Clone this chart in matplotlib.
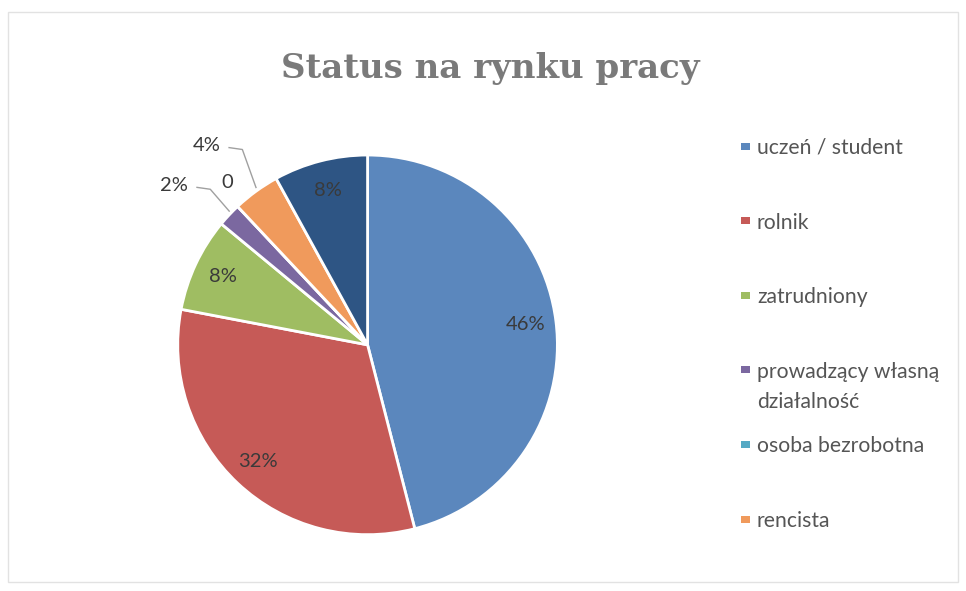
import numpy as np
import matplotlib
matplotlib.use("Agg")
import matplotlib.pyplot as plt
from matplotlib.patches import Rectangle

categories = ["uczeń / student", "rolnik", "zatrudniony",
              "prowadzący własną\ndziałalność", "osoba bezrobotna", "rencista", "inne"]
values = [46, 32, 8, 2, 0, 4, 8]
colors = ["#5b87bd", "#c65a57", "#9fbd62", "#7b68a0", "#55a9c4", "#f09a5c", "#2e5584"]
legend_count = 6
title = "Status na rynku pracy"

W, H = 966, 591
fig = plt.figure(figsize=(W / 100, H / 100), dpi=100)
fig.patch.set_facecolor("white")
fig.add_artist(Rectangle((0.008, 0.015), 0.984, 0.965, transform=fig.transFigure,
                         fill=False, edgecolor="#e2e2e2", linewidth=1))

ax = fig.add_axes([0.184, 0.095, 0.393, 0.643])
wedges, _ = ax.pie(values, colors=colors, startangle=90, counterclock=False,
                   wedgeprops=dict(edgecolor="white", linewidth=2))
ax.set_aspect("equal")

lab_font = dict(fontsize=14.5, family="Lato", color="#3a3a3a")
inside_r = 0.84
for w, v in zip(wedges, values):
    ang = np.deg2rad((w.theta1 + w.theta2) / 2)
    if v >= 5:
        ax.text(inside_r * np.cos(ang), inside_r * np.sin(ang), f"{v}%",
                ha="center", va="center", **lab_font)

# small slices: outside labels (radius, angle, leader line)
outside = {3: (1.32, 140.5, True), 4: (1.13, 131, False), 5: (1.35, 129, True)}
for i, (r, a, line) in outside.items():
    w = wedges[i]
    v = values[i]
    ang = np.deg2rad((w.theta1 + w.theta2) / 2)
    lx, ly = r * np.cos(np.deg2rad(a)), r * np.sin(np.deg2rad(a))
    txt = f"{v}%" if v else "0"
    ax.text(lx, ly, txt, ha="center", va="center", **lab_font)
    if line:
        ex, ey = 1.0 * np.cos(ang), 1.0 * np.sin(ang)
        sx = lx + 0.12
        kx = sx + 0.07
        ax.plot([sx, kx, ex], [ly - 0.01, ly - 0.02, ey + 0.02], color="#a0a0a0",
                lw=1, clip_on=False)

ax.set_xlim(-1.0, 1.0)
ax.set_ylim(-1.0, 1.0)

fig.text(0.508, 0.884, title, ha="center", va="center", fontsize=24.5,
         family="DejaVu Serif", fontweight="bold", color="#7a7a7a")

# legend (manual layout, evenly spaced entries; extra lines hang below)
leg_x_box = 741 / W
leg_x_txt = 757 / W
first_y = 146
step = 74.6
line_gap = 30
for i in range(legend_count):
    yc = first_y + step * i
    fig.add_artist(Rectangle((leg_x_box, 1 - (yc + 3.5) / H), 9 / W, 7 / H,
                             transform=fig.transFigure, facecolor=colors[i],
                             edgecolor="none"))
    for k, line_txt in enumerate(categories[i].split("\n")):
        fig.text(leg_x_txt, 1 - (yc + k * line_gap) / H, line_txt, ha="left",
                 va="center_baseline", fontsize=15.2, family="Lato", color="#555555")

fig.savefig("out.png", dpi=100, facecolor="white")
